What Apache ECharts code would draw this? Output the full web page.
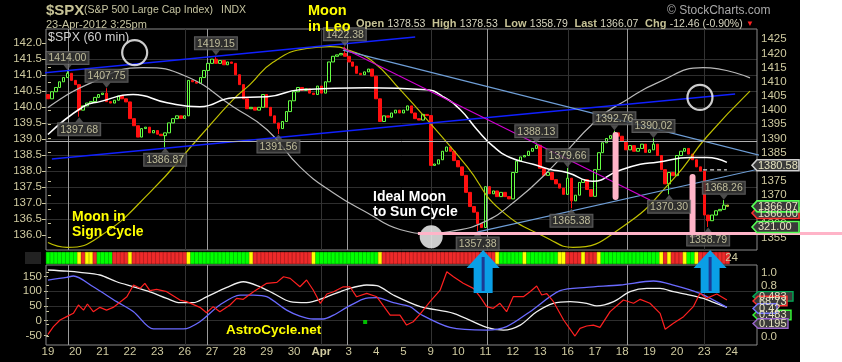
<!DOCTYPE html>
<html><head><meta charset="utf-8">
<script src="https://cdn.jsdelivr.net/npm/echarts@6/dist/echarts.min.js"></script>
<style>html,body{margin:0;padding:0;background:#fff;}#c{width:842px;height:362px;background:linear-gradient(to right,#000 0,#000 800px,#fff 800px);}</style>
</head><body><div id="c"></div>
<script>
// ---------------- DATA ----------------
const dayLabels = ['19','20','21','22','23','26','27','28','29','30','Apr','3','4','5','9','10','11','12','13','16','17','18','19','20','23','24'];
const barsPerDay = 7;
const firstOpen = 1405.5;
const closesByDay = [
 [1404.0,1406.5,1408.0,1410.0,1411.5,1413.0,1410.5],
 [1409.0,1400.0,1401.5,1402.5,1403.0,1404.5,1405.5],
 [1406.0,1403.0,1402.5,1403.5,1405.0,1404.0,1402.9],
 [1397.0,1394.5,1390.5,1393.5,1394.0,1392.0,1392.8],
 [1391.5,1391.0,1392.0,1395.5,1397.0,1398.0,1397.1],
 [1398.0,1410.5,1410.0,1409.5,1411.5,1414.0,1416.5],
 [1418.0,1416.5,1417.5,1416.0,1417.0,1416.5,1412.5],
 [1409.0,1404.0,1400.5,1401.0,1400.0,1401.0,1405.5],
 [1401.0,1398.0,1395.5,1393.5,1396.0,1399.5,1403.3],
 [1406.5,1408.0,1407.0,1407.5,1406.0,1405.5,1408.5],
 [1406.0,1410.0,1417.0,1419.0,1419.5,1420.0,1419.0],
 [1417.0,1415.5,1413.0,1412.5,1413.5,1414.5,1412.0],
 [1404.0,1396.0,1398.0,1397.5,1399.0,1400.0,1399.0],
 [1400.0,1401.5,1399.0,1397.0,1396.5,1398.5,1398.1],
 [1380.5,1381.0,1382.5,1385.5,1387.0,1385.5,1382.2],
 [1380.0,1377.0,1371.0,1366.0,1364.0,1360.0,1358.6],
 [1373.0,1370.5,1371.5,1369.5,1371.0,1369.5,1368.7],
 [1378.0,1382.0,1383.5,1384.0,1385.5,1386.5,1387.6],
 [1379.5,1377.0,1378.0,1375.5,1374.0,1372.5,1370.3],
 [1376.0,1368.0,1370.0,1374.5,1375.5,1372.0,1369.6],
 [1379.0,1385.0,1388.5,1390.0,1391.0,1392.0,1390.8],
 [1389.0,1386.0,1387.5,1385.5,1386.5,1388.0,1385.1],
 [1386.0,1388.0,1384.0,1379.0,1374.0,1378.0,1376.9],
 [1384.0,1385.5,1386.5,1384.5,1382.5,1380.0,1378.5],
 [1363.0,1361.0,1363.0,1364.5,1365.0,1366.5,1366.07]
];
const highMarks = [[5,1414.00],[15,1407.75],[43,1419.15],[76,1422.38],[125,1388.13],[133,1379.66],[145,1392.76],[155,1390.02],[173,1368.26]];
const lowMarks  = [[8,1397.68],[30,1386.87],[59,1391.56],[110,1357.38],[134,1365.38],[159,1370.30],[169,1358.79]];

const moonSignCycle = [[0,1353.3],[4.9,1351.6],[13.3,1355.5],[26.1,1371.0],[38.9,1390.7],[47.4,1403.7],[51.7,1409.0],[57.6,1416.9],[66.3,1421.8],[72.2,1422.4],[77.3,1421.0],[83.2,1417.1],[90.1,1407.3],[98.6,1394.2],[107.3,1380.1],[115.7,1365.0],[128.5,1354.4],[134.4,1351.6],[147.2,1359.0],[160.0,1375.6],[168.7,1390.7],[179.7,1406.7]];
const moonSunCycle = [[0,1400.9],[10.0,1409.0],[24.3,1415.0],[35.6,1411.8],[47.4,1401.2],[56.1,1393.1],[64.5,1380.0],[73.0,1370.9],[81.7,1363.8],[90.1,1357.9],[97.8,1356.5],[102.9,1357.2],[111.4,1360.4],[120.1,1368.5],[128.5,1379.1],[140.6,1396.7],[148.2,1403.7],[156.1,1409.7],[167.7,1415.0],[179.7,1411.4]];
const priceMA = [[0,1391.4],[9.0,1401.2],[13.3,1403.0],[21.8,1405.5],[30.5,1402.6],[38.9,1401.2],[47.4,1404.4],[56.1,1404.7],[64.5,1407.2],[81.7,1407.9],[97.0,1407.2],[101.1,1404.8],[105.5,1400.2],[109.8,1393.2],[114.0,1387.2],[118.3,1383.3],[124.2,1380.9],[128.5,1379.1],[132.9,1378.0],[139.5,1374.9],[145.7,1378.4],[151.6,1380.9],[155.9,1381.6],[164.4,1383.3],[168.7,1383.3],[173.8,1381.6]];

const blueUpper = [[-12.3,1411.7],[94.0,1425.8]];
const blueLower = [[1.0,1382.8],[175.9,1405.7]];
const lightBlueUpper = [[75.5,1421.2],[190.0,1381.4]];
const lightBlueLower = [[109.8,1357.0],[190.0,1381.7]];
const magentaLine = [[75.5,1421.9],[154.1,1368.3]];
const dashLevel = [[167.7,1378.9],[173.8,1378.9]];
const brightLevel = 1389.2;

const pinkBars = [[145.3,1391.2,1369.4],[165.0,1376.4,1356.0]];
const pinkLevel = {from:94.7, value:1356.5};
const moonCircles = [[22.2,1420.3],[166.9,1404.5]];
const moonDot = [[98.1,1355.3]];

const cycleLines = [5.1,40.7,76.6,112.4,148.2];
const weekLines = [35,70,98,133,168];
const arrowBars = [111.4,169.5];

const stripRuns = [['G',8],['Y',1],['R',1],['Y',2],['R',1],['G',4],['R',4],['Y',1],['R',14],['Y',1],['G',15],['Y',1],['R',15],['Y',1],['G',16],['Y',1],['R',29],['Y',1],['G',6],['Y',1],['G',8],['Y',2],['R',4],['Y',1],['R',3],['Y',1],['G',15],['Y',1],['R',1],['Y',1],['R',3],['Y',1],['G',2],['Y',1],['R',8]];

const indWhite = [[0,171.9],[4.8,168],[8.2,164],[13.3,154.9],[17.6,132],[21.9,115],[26.1,98],[30.4,75.7],[33.8,61],[37.2,61],[40.6,81],[45.8,113],[50.0,132],[54.3,115],[57.7,92.8],[62.0,64.5],[66.2,61],[71.4,81],[76.5,106],[81.6,121],[84.2,119],[88.4,87],[95.3,47.6],[103.8,25],[112.3,-22.7],[116.6,-31.8],[120.9,-14.8],[125.1,30.6],[129.4,58.9],[133.7,64.5],[137.9,58.9],[140.5,50],[144.8,64.5],[149.0,98.3],[153.3,109.7],[156.7,109.7],[160.1,98.3],[163.5,89.4],[167.8,75.7],[170.4,62],[173.8,45]];
const indBlue = [[0,137.9],[4.8,147],[6.5,151.5],[11.6,115],[17.6,64.5],[21.9,30.6],[27.0,-28],[30.4,-28],[34.7,-28],[38.9,-3.5],[44.0,53.2],[49.2,87],[52.6,87],[56.0,81.5],[61.1,36],[64.5,15.9],[67.9,5.8],[70.5,5.8],[73.1,19],[76.5,45],[80.7,73.5],[84.2,78],[88.4,61],[92.7,47.6],[95.3,22],[102.9,-22.7],[112.3,-31.8],[117.4,-20],[123.4,30.6],[131.1,101.8],[137.9,113],[146.5,121],[155.0,134.5],[160.1,121],[166.9,92.8],[173.8,45]];
const indRed = [[0,-46.3],[1.4,-20],[3.1,2.4],[4.8,13.7],[6.5,25],[7.8,53.2],[9.1,36],[10.1,56.6],[11.6,30.6],[13.3,45.3],[15.0,36],[16.7,45],[20.2,81],[21.9,121],[23.6,109.7],[24.8,126.7],[26.1,101.8],[27.8,106],[30.4,98.4],[33.8,70],[35.5,64.5],[38.9,45.3],[40.6,27],[42.3,47.6],[44.0,30.6],[46.6,53.2],[48.3,75.7],[50.0,72.4],[52.6,98.4],[56.0,126.7],[58.6,130],[60.3,149],[62.0,143.6],[64.5,115],[66.2,137.9],[67.9,104],[69.7,59],[71.4,90.5],[73.1,98],[75.6,115],[77.3,115],[79.0,81],[81.6,92.7],[84.2,81],[87.6,19],[90.1,19],[91.8,-14.8],[93.5,-3.5],[95.3,23],[97.8,64.5],[100.4,104],[102.1,166],[103.8,149],[106.3,126.7],[108.9,109.7],[110.6,81.5],[112.3,47.6],[114.0,42],[115.7,59],[117.4,30.6],[119.1,81.5],[121.7,81.5],[123.4,98.4],[125.1,117.5],[126.4,87],[127.7,92],[129.4,64.5],[132.0,2.4],[134.9,-52],[136.2,-26],[137.9,-18],[139.6,-14.8],[141.3,-22.7],[143.9,30.6],[147.3,70],[149.9,59],[151.6,72.4],[154.1,59],[156.7,25],[158.0,-29],[160.1,-9],[162.7,13.7],[165.2,47.6],[166.9,92.7],[168.6,75.7],[171.2,90.4],[173.8,70]];
const greenSquare = [[81.2,-4.4]];

const priceTags = [
 {v:1380.58, text:'1380.58', stroke:'#d0d0d0'},
 {v:1363.7, text:'1366.00', stroke:'#ff3030'},
 {v:1366.07, text:'1366.07', stroke:'#55ff55'},
 {v:1358.8, text:'321.00', stroke:'#55ff55'}
];
const indTags = [
 {v:0.63, text:'0.483', stroke:'#00aa55', x1:793},
 {v:0.557, text:'68.73', stroke:'#ff3030', x1:787},
 {v:0.34, text:'0.483', stroke:'#33ff33', x1:791},
 {v:0.44, text:'0.42', stroke:'#7777ff', x1:777},
 {v:0.206, text:'0.195', stroke:'#9966cc', x1:788}
];

// ---------------- BUILD ----------------
const totalSlots = dayLabels.length * barsPerDay;
const cats = Array.from({length: totalSlots}, (_, i) => String(i));
const closes = closesByDay.flat();
const candleData = closes.map((c, i) => {
  const o = i === 0 ? firstOpen : closes[i - 1];
  let h = Math.max(o, c), l = Math.min(o, c);
  highMarks.forEach(m => { if (m[0] === i) h = m[1]; });
  lowMarks.forEach(m => { if (m[0] === i) l = m[1]; });
  const item = {value: [o, c, l, h]};
  if (i === closes.length - 1) item.itemStyle = {color:'#9a9a10', color0:'#9a9a10', borderColor:'#d0d040', borderColor0:'#d0d040'};
  return item;
});
const colorMap = {G:'#00ff00', R:'#ee2a2a', Y:'#ffff00'};
const stripData = [];
stripRuns.forEach(r => { for (let k = 0; k < r[1]; k++) stripData.push({value:1, itemStyle:{color:colorMap[r[0]], borderColor:colorMap[r[0]], borderWidth:0.6}}); });
stripData.push({value:1, itemStyle:{color:'rgba(0,0,0,0)', borderWidth:0}, label:{show:true, position:'inside', formatter:'24', color:'#cfcaa0', fontSize:11.5, fontFamily:'Liberation Sans'}});

const axisTxt = '#cfcaa0';
const FONT = 'Liberation Sans';
function range(a, b, s) { const r = []; for (let v = a; v <= b + 1e-9; v += s) r.push(+v.toFixed(4)); return r; }

const lineSeries = (data, color, width, extra) => Object.assign({type:'line', xAxisIndex:1, yAxisIndex:0, data, symbol:'none', silent:true, lineStyle:{color, width}, z:4, animation:false}, extra || {});

const series = [
 {type:'candlestick', xAxisIndex:0, yAxisIndex:0, data:candleData, barWidth:3, z:3,
  itemStyle:{color:'#000', color0:'#ff1010', borderColor:'#66ff44', borderColor0:'#ff1010', borderWidth:1}},
 lineSeries([], '#aaa', 1, {markLine:{silent:true, symbol:'none', label:{show:false}, lineStyle:{color:'#b0b0b0', width:1, type:'solid'}, data:[{yAxis:brightLevel}]}}),
 lineSeries(moonSignCycle, '#c0c000', 1.2, {smooth:true}),
 lineSeries(moonSunCycle, '#b8b8b8', 1.2, {smooth:true}),
 lineSeries(priceMA, '#ffffff', 1.5, {smooth:true}),
 lineSeries(blueUpper, '#1020ff', 1.5, {clip:false}),
 lineSeries(blueLower, '#1020ff', 1.5),
 lineSeries(lightBlueUpper, '#6f9fd8', 1.2, {clip:false}),
 lineSeries(lightBlueLower, '#6f9fd8', 1.2, {clip:false}),
 lineSeries(magentaLine, '#d000d0', 1.2),
 lineSeries(dashLevel, '#dddddd', 1.2, {lineStyle:{color:'#dddddd', width:1.2, type:[4,3]}}),
 ...pinkBars.map(b => lineSeries([[b[0], b[1]], [b[0], b[2]]], '#ffb4c8', 6, {lineStyle:{color:'#ffb4c8', width:6, cap:'round'}, z:6})),
 {type:'scatter', xAxisIndex:1, yAxisIndex:0, data:moonCircles, symbolSize:25, silent:true, z:7,
  itemStyle:{color:'rgba(0,0,0,0)', borderColor:'#ffffff', borderWidth:2.2}},
 {type:'scatter', xAxisIndex:1, yAxisIndex:0, data:moonDot, symbolSize:23, silent:true, z:7, itemStyle:{color:'#ffffff'}},
 {type:'scatter', xAxisIndex:1, yAxisIndex:0, data:highMarks, symbol:'triangle', symbolRotate:180, symbolSize:[8,5], symbolOffset:[0,-3], silent:true, z:8,
  itemStyle:{color:'#606060'},
  label:{show:true, position:'top', distance:1, formatter:p => p.value[1].toFixed(2), color:'#e2dfb5', fontSize:10.5, fontFamily:FONT, backgroundColor:'#383838', borderColor:'#707070', borderWidth:1, padding:[1,2,0,2], lineHeight:11}},
 {type:'scatter', xAxisIndex:1, yAxisIndex:0, data:lowMarks, symbol:'triangle', symbolSize:[8,5], symbolOffset:[0,3], silent:true, z:8,
  itemStyle:{color:'#606060'},
  label:{show:true, position:'bottom', distance:1, formatter:p => p.value[1].toFixed(2), color:'#e2dfb5', fontSize:10.5, fontFamily:FONT, backgroundColor:'#383838', borderColor:'#707070', borderWidth:1, padding:[1,2,0,2], lineHeight:11}},
 {type:'bar', xAxisIndex:3, yAxisIndex:2, data:stripData, barCategoryGap:'0%', silent:true, z:2},
 {type:'line', xAxisIndex:4, yAxisIndex:3, data:indWhite, symbol:'none', silent:true, lineStyle:{color:'#f0f0f0', width:1.3}, smooth:0.3, z:4},
 {type:'line', xAxisIndex:4, yAxisIndex:3, data:indBlue, symbol:'none', silent:true, lineStyle:{color:'#6a6aff', width:1.3}, smooth:0.3, z:4},
 {type:'line', xAxisIndex:4, yAxisIndex:3, data:indRed, symbol:'none', silent:true, lineStyle:{color:'#ff2020', width:1.2}, z:5},
 {type:'scatter', xAxisIndex:4, yAxisIndex:3, data:greenSquare, symbol:'rect', symbolSize:4, silent:true, itemStyle:{color:'#00ee00'}, z:5}
];

const gridBase = {left:46, width:711, containLabel:false, outerBoundsMode:'none', show:false};
const valLabel = (fmt) => ({color:axisTxt, fontSize:11.5, fontFamily:FONT, showMinLabel:false, showMaxLabel:false, margin:4, formatter:fmt});

const option = {
  animation:false,
  backgroundColor:'transparent',
  grid:[
    Object.assign({top:25.1, height:226.8}, gridBase),
    Object.assign({top:27.3, height:223.7}, gridBase),
    Object.assign({top:252, height:12}, gridBase),
    Object.assign({top:261.7, height:88.5}, gridBase),
    Object.assign({top:259.9, height:89.6}, gridBase),
    Object.assign({top:342, height:1}, gridBase)
  ],
  xAxis:[
    {type:'category', gridIndex:0, data:cats, show:false},
    {type:'value', gridIndex:0, min:-0.5, max:totalSlots - 0.5, show:false},
    {type:'value', gridIndex:1, min:0, max:1, show:false},
    {type:'category', gridIndex:2, data:cats, show:false},
    {type:'value', gridIndex:3, min:-0.5, max:totalSlots - 0.5, show:false},
    {type:'value', gridIndex:4, min:0, max:1, show:false},
    {type:'category', gridIndex:5, data:cats, axisLine:{show:false}, axisTick:{show:false}, splitLine:{show:false},
     axisLabel:{interval:(i) => i % barsPerDay === 0, margin:3, color:axisTxt, fontSize:11.5, fontFamily:FONT,
       formatter:(v, i) => { const d = dayLabels[Math.floor(i / barsPerDay)]; return d === 'Apr' ? '{b|Apr}' : d; },
       rich:{b:{fontWeight:'bold', color:axisTxt, fontSize:11.5, fontFamily:FONT}}}}
  ],
  yAxis:[
    {type:'value', gridIndex:0, position:'right', min:1350, max:1430, interval:5,
     axisLine:{show:false}, splitLine:{show:false},
     axisTick:{show:true, length:3, lineStyle:{color:axisTxt}, customValues:range(1355,1425,5)},
     axisLabel:valLabel(v => String(v))},
    {type:'value', gridIndex:1, position:'left', min:135.5, max:142.5, interval:0.5,
     axisLine:{show:false},
     splitLine:{show:true, showMinLine:false, showMaxLine:false, lineStyle:{color:'#2e2e2e', width:1}},
     axisTick:{show:true, length:4, lineStyle:{color:axisTxt}, customValues:range(136,142,0.5)},
     axisLabel:valLabel(v => v.toFixed(1))},
    {type:'value', gridIndex:2, min:0, max:1, show:false},
    {type:'value', gridIndex:3, position:'left', min:-100, max:200, interval:50,
     axisLine:{show:false},
     splitLine:{show:true, showMinLine:false, showMaxLine:false, lineStyle:{color:'#2e2e2e', width:1}},
     axisTick:{show:true, length:4, lineStyle:{color:axisTxt}, customValues:range(-50,150,50)},
     axisLabel:valLabel(v => String(v))},
    {type:'value', gridIndex:4, position:'right', min:-0.2, max:1.2, interval:0.2,
     axisLine:{show:false}, splitLine:{show:false},
     axisTick:{show:true, length:3, lineStyle:{color:axisTxt}, customValues:range(0,1,0.2)},
     axisLabel:valLabel(v => v.toFixed(1))},
    {type:'value', gridIndex:5, show:false}
  ],
  series
};

const chart = echarts.init(document.getElementById('c'), null, {renderer:'canvas', width:842, height:362});
chart.setOption(option);

// ---------------- ANNOTATIONS (positioned through the chart's own scales) ----------------
const xPix = v => chart.convertToPixel({xAxisIndex:1}, v);
const yPrice = v => chart.convertToPixel({yAxisIndex:0}, v);
const yInd = v => chart.convertToPixel({yAxisIndex:4}, v);
const G = [];
const txt = (x, y, text, font, fill, z) => ({type:'text', x, y, z:z || 100, silent:true, style:{text, font, fill}});
G.push({type:'rect', z:1, silent:true, shape:{x:46, y:29, width:711, height:221}, style:{fill:'none', stroke:'#8a8a8a', lineWidth:1}});
G.push({type:'rect', z:1, silent:true, shape:{x:46, y:265, width:711, height:80}, style:{fill:'none', stroke:'#8a8a8a', lineWidth:1}});
G.push({type:'rect', z:1, silent:true, shape:{x:25, y:252, width:16, height:12}, style:{fill:'#222'}});
weekLines.forEach(v => { const x = Math.round(xPix(v)) + 0.5;
  G.push({type:'line', z:1, silent:true, shape:{x1:x, y1:29, x2:x, y2:250}, style:{stroke:'#333', lineWidth:1}});
  G.push({type:'line', z:1, silent:true, shape:{x1:x, y1:265, x2:x, y2:345}, style:{stroke:'#333', lineWidth:1}}); });
cycleLines.forEach(v => { const x = Math.round(xPix(v)) + 0.5;
  G.push({type:'line', z:1, silent:true, shape:{x1:x, y1:29, x2:x, y2:250}, style:{stroke:'#9a9a9a', lineWidth:1}});
  G.push({type:'line', z:1, silent:true, shape:{x1:x, y1:265, x2:x, y2:345}, style:{stroke:'#9a9a9a', lineWidth:1}}); });
{ const y = yPrice(pinkLevel.value);
  G.push({type:'line', z:60, silent:true, shape:{x1:xPix(pinkLevel.from), y1:y, x2:842, y2:y}, style:{stroke:'#ffb4c8', lineWidth:3}}); }
arrowBars.forEach(v => { const cx = xPix(v);
  G.push({type:'polygon', z:70, silent:true, shape:{points:[[cx,250],[cx+16.5,268],[cx+9.5,268],[cx+9.5,293],[cx-9.5,293],[cx-9.5,268],[cx-16.5,268]]}, style:{fill:'#0a9fe6'}});
  G.push({type:'rect', z:71, silent:true, shape:{x:cx-1.5, y:257, width:3, height:34}, style:{fill:'#1c3a94'}}); });
function tag(x0, x1, yc, h, text, stroke, lw) {
  return [
    {type:'polygon', z:110, silent:true, shape:{points:[[x0,yc],[x0+5,yc-h/2],[x1,yc-h/2],[x1,yc+h/2],[x0+5,yc+h/2]]}, style:{fill:'#3a3a3a', stroke, lineWidth:lw}},
    {type:'text', z:111, silent:true, x:x0+6, y:yc+0.5, style:{text, font:'11px Liberation Sans', fill:'#e6e3c0', verticalAlign:'middle'}}
  ];
}
priceTags.forEach(t => G.push(...tag(752, 799, yPrice(t.v), 11, t.text, t.stroke, 1.6)));
indTags.forEach(t => G.push(...tag(753, t.x1, yInd(t.v), 9.5, t.text, t.stroke, 1.4)));
G.push(txt(46, 3, '$SPX', 'bold 15px Liberation Sans', '#c6c295'));
G.push(txt(84, 5, '(S&P 500 Large Cap Index)', '10.5px Liberation Sans', '#c6c4a0'));
G.push(txt(221, 5, 'INDX', '10.5px Liberation Sans', '#c6c4a0'));
G.push(txt(46, 19, '23-Apr-2012 3:25pm', '11px Liberation Sans', '#c6c4a0'));
G.push(txt(667, 5, '© StockCharts.com', '12px Liberation Sans', '#a8a8a8'));
G.push({type:'text', x:356, y:18, z:100, silent:true, style:{
  text:'{k|Open} {v|1378.53}  {k|High} {v|1378.53}  {k|Low} {v|1358.79}  {k|Last} {v|1366.07}  {k|Chg} {v|-12.46 (-0.90%)} {r|▼}',
  rich:{k:{font:'bold 11px Liberation Sans', fill:'#c6c295', color:'#c6c295'}, v:{font:'10.5px Liberation Sans', fill:'#d8d6c0', color:'#d8d6c0'}, r:{font:'8px Liberation Sans', fill:'#ff2020', color:'#ff2020'}}}});
G.push(txt(308, 3, 'Moon', 'bold 14.5px Liberation Sans', '#ffff00'));
G.push(txt(308, 19, 'in Leo', 'bold 14.5px Liberation Sans', '#ffff00'));
G.push(txt(48, 31, '$SPX (60 min)', '12.5px Liberation Sans', '#cfcfcf'));
G.push(txt(373, 190, 'Ideal Moon', 'bold 14px Liberation Sans', '#ffffff'));
G.push(txt(373, 205, 'to Sun Cycle', 'bold 14px Liberation Sans', '#ffffff'));
G.push(txt(72, 210, 'Moon in', 'bold 14px Liberation Sans', '#ffff00'));
G.push(txt(72, 225, 'Sign Cycle', 'bold 14px Liberation Sans', '#ffff00'));
G.push(txt(226, 323, 'AstroCycle.net', 'bold 13.5px Liberation Sans', '#ffff00'));

chart.setOption({graphic: G});
</script></body></html>
